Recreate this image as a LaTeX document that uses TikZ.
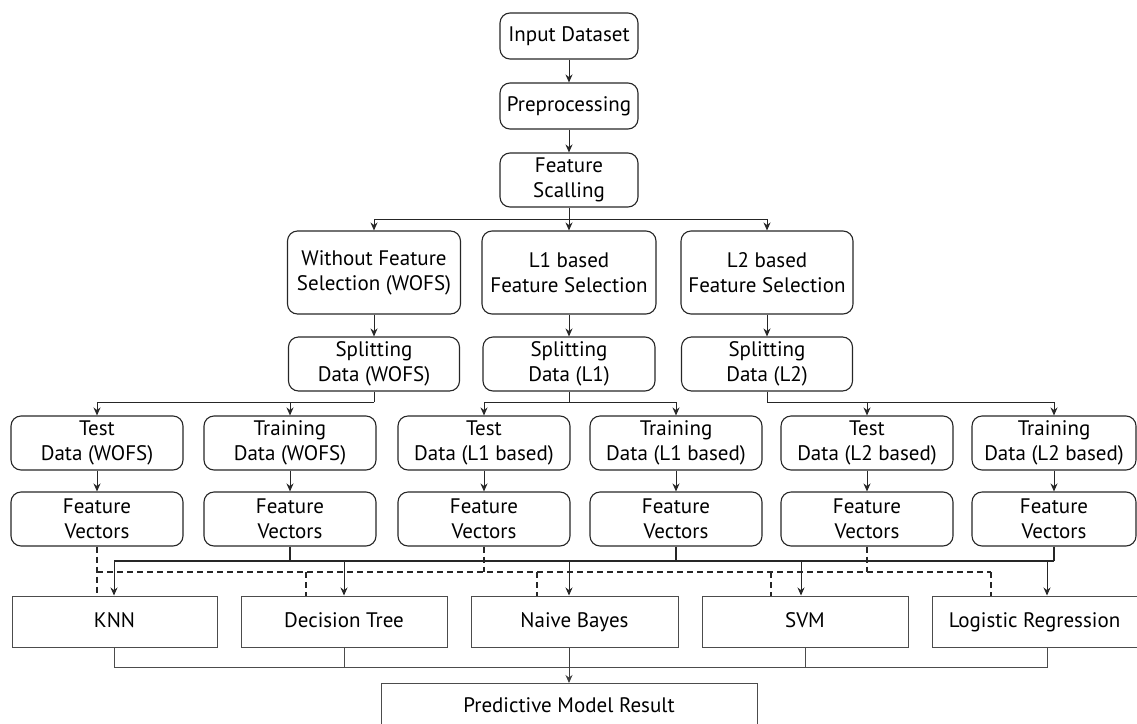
\documentclass[tikz,border=0pt]{standalone}
\usepackage{fontspec}
\setmainfont{PT Sans}
\usetikzlibrary{arrows.meta,calc}
\begin{document}
\begin{tikzpicture}[x=1pt,y=-1pt,
  rbox/.style={draw=black!85, line width=1.1pt, rounded corners=10pt, align=center, inner sep=0pt,
    font=\fontsize{21}{25}\selectfont},
  cbox/.style={draw=black!70, line width=1pt, inner sep=0pt, text height=15pt, text depth=4pt,
    font=\fontsize{21}{25}\selectfont},
  arr/.style={-{Stealth[length=8pt,width=7pt]}, line width=1pt, draw=black!85},
  ln/.style={line width=1pt, draw=black!70},
  thickln/.style={line width=1.9pt, draw=black!85},
  dsh/.style={line width=1.9pt, draw=black!85, dash pattern=on 6pt off 4pt}]
\useasboundingbox (0,0) rectangle (1137,723);

% top chain
\node[rbox, minimum width=138pt, minimum height=46pt] (inp) at (569,36) {Input Dataset};
\node[rbox, minimum width=138pt, minimum height=46pt] (pre) at (569,106) {Preprocessing};
\node[rbox, minimum width=138pt, minimum height=54pt] (fs) at (569,180) {Feature\\Scalling};

% feature selection
\node[rbox, minimum width=173pt, minimum height=83pt] (wofs) at (374,272.5) {Without Feature\\Selection (WOFS)};
\node[rbox, minimum width=174pt, minimum height=83pt] (l1fs) at (569,272.5) {L1 based\\Feature Selection};
\node[rbox, minimum width=172pt, minimum height=83pt] (l2fs) at (767,272.5) {L2 based\\Feature Selection};

% splitting
\node[rbox, minimum width=171pt, minimum height=54pt] (spw) at (374,364) {Splitting\\Data (WOFS)};
\node[rbox, minimum width=172pt, minimum height=54pt] (sp1) at (569,364) {Splitting\\Data (L1)};
\node[rbox, minimum width=171pt, minimum height=54pt] (sp2) at (767,364) {Splitting\\Data (L2)};

% data
\node[rbox, minimum width=172pt, minimum height=54pt] (tw) at (97,443) {Test\\Data (WOFS)};
\node[rbox, minimum width=172pt, minimum height=54pt] (rw) at (290,443) {Training\\Data (WOFS)};
\node[rbox, minimum width=172pt, minimum height=54pt] (t1) at (484,443) {Test\\Data (L1 based)};
\node[rbox, minimum width=172pt, minimum height=54pt] (r1) at (676,443) {Training\\Data (L1 based)};
\node[rbox, minimum width=172pt, minimum height=54pt] (t2) at (867,443) {Test\\Data (L2 based)};
\node[rbox, minimum width=164pt, minimum height=54pt] (r2) at (1054,443) {Training\\Data (L2 based)};

% feature vectors
\node[rbox, minimum width=172pt, minimum height=54pt] (ftw) at (97,519) {Feature\\Vectors};
\node[rbox, minimum width=172pt, minimum height=54pt] (frw) at (290,519) {Feature\\Vectors};
\node[rbox, minimum width=172pt, minimum height=54pt] (ft1) at (484,519) {Feature\\Vectors};
\node[rbox, minimum width=172pt, minimum height=54pt] (fr1) at (676,519) {Feature\\Vectors};
\node[rbox, minimum width=172pt, minimum height=54pt] (ft2) at (867,519) {Feature\\Vectors};
\node[rbox, minimum width=164pt, minimum height=54pt] (fr2) at (1054,519) {Feature\\Vectors};

% classifiers
\node[cbox, minimum width=205pt, minimum height=51pt] (knn) at (114.5,621.5) {KNN};
\node[cbox, minimum width=206pt, minimum height=51pt] (dt) at (344,621.5) {Decision Tree};
\node[cbox, minimum width=207pt, minimum height=51pt] (nb) at (574.5,621.5) {Naive Bayes};
\node[cbox, minimum width=206pt, minimum height=51pt] (svm) at (805,621.5) {SVM};
\node[cbox, minimum width=205pt, minimum height=51pt] (lr) at (1034.5,621.5) {Logistic Regression};

% result
\node[cbox, minimum width=376pt, minimum height=46pt, anchor=north] (pred) at (569,683) {Predictive Model Result};

% top connectors
\draw[arr] (inp) -- (pre);
\draw[arr] (pre) -- (fs);
\coordinate (j0) at (569,219);
\draw[ln, draw=black!85] (fs.south) -- (j0);
\draw[arr] (j0) -| (wofs.north);
\draw[arr] (j0) -- (l1fs.north);
\draw[arr] (j0) -| (l2fs.north);
\draw[arr] (wofs) -- (spw);
\draw[arr] (l1fs) -- (sp1);
\draw[arr] (l2fs) -- (sp2);

% splitting to data
\coordinate (jw) at (374,402);
\coordinate (j1) at (569,402);
\coordinate (j2) at (767,402);
\draw[ln, draw=black!85] (spw.south) -- (jw);
\draw[ln, draw=black!85] (sp1.south) -- (j1);
\draw[ln, draw=black!85] (sp2.south) -- (j2);
\draw[arr] (jw) -| (tw.north);
\draw[arr] (jw) -| (rw.north);
\draw[arr] (j1) -| (t1.north);
\draw[arr] (j1) -| (r1.north);
\draw[arr] (j2) -| (t2.north);
\draw[arr] (j2) -| (r2.north);

% data to vectors
\draw[arr] (tw) -- (ftw);
\draw[arr] (rw) -- (frw);
\draw[arr] (t1) -- (ft1);
\draw[arr] (r1) -- (fr1);
\draw[arr] (t2) -- (ft2);
\draw[arr] (r2) -- (fr2);

% solid (training) bus
\coordinate (sL) at (114,561);
\coordinate (sR) at (1054,561);
\draw[thickln] (sL) -- (sR);
\draw[thickln] (frw.south) -- (frw.south |- sL);
\draw[thickln] (fr1.south) -- (fr1.south |- sL);
\draw[thickln] (fr2.south) -- (sR);
\coordinate (aDT) at (344,561);
\coordinate (aNB) at (569,561);
\coordinate (aSVM) at (801,561);
\coordinate (aLR) at (1047,561);
\draw[arr] (sL) -- (sL |- knn.north);
\draw[arr] (aDT) -- (aDT |- dt.north);
\draw[arr] (aNB) -- (aNB |- nb.north);
\draw[arr] (aSVM) -- (aSVM |- svm.north);
\draw[arr] (aLR) -- (aLR |- lr.north);

% dashed (test) bus
\coordinate (dL) at (97,572);
\coordinate (dR) at (991,572);
\draw[dsh] (dL) -- (dR);
\draw[dsh] (ftw.south) -- (ftw.south |- knn.north);
\draw[dsh] (ft1.south) -- (ft1.south |- dL);
\draw[dsh] (ft2.south) -- (ft2.south |- dL);
\coordinate (dDT) at (306,572);
\coordinate (dNB) at (537,572);
\coordinate (dSVM) at (771,572);
\draw[dsh] (dDT) -- (dDT |- dt.north);
\draw[dsh] (dNB) -- (dNB |- nb.north);
\draw[dsh] (dSVM) -- (dSVM |- svm.north);
\draw[dsh] (dR) -- (dR |- lr.north);

% bottom collection
\coordinate (bL) at (114,667);
\coordinate (bR) at (1047,667);
\draw[ln] (knn.south -| bL) -- (bL) -- (bR) -- (bR |- lr.south);
\draw[ln] (dt.south) -- (dt.south |- bL);
\draw[ln] (svm.south) -- (svm.south |- bL);
\draw[arr, draw=black!75] (pred.north |- nb.south) -- (pred.north);
\end{tikzpicture}
\end{document}
